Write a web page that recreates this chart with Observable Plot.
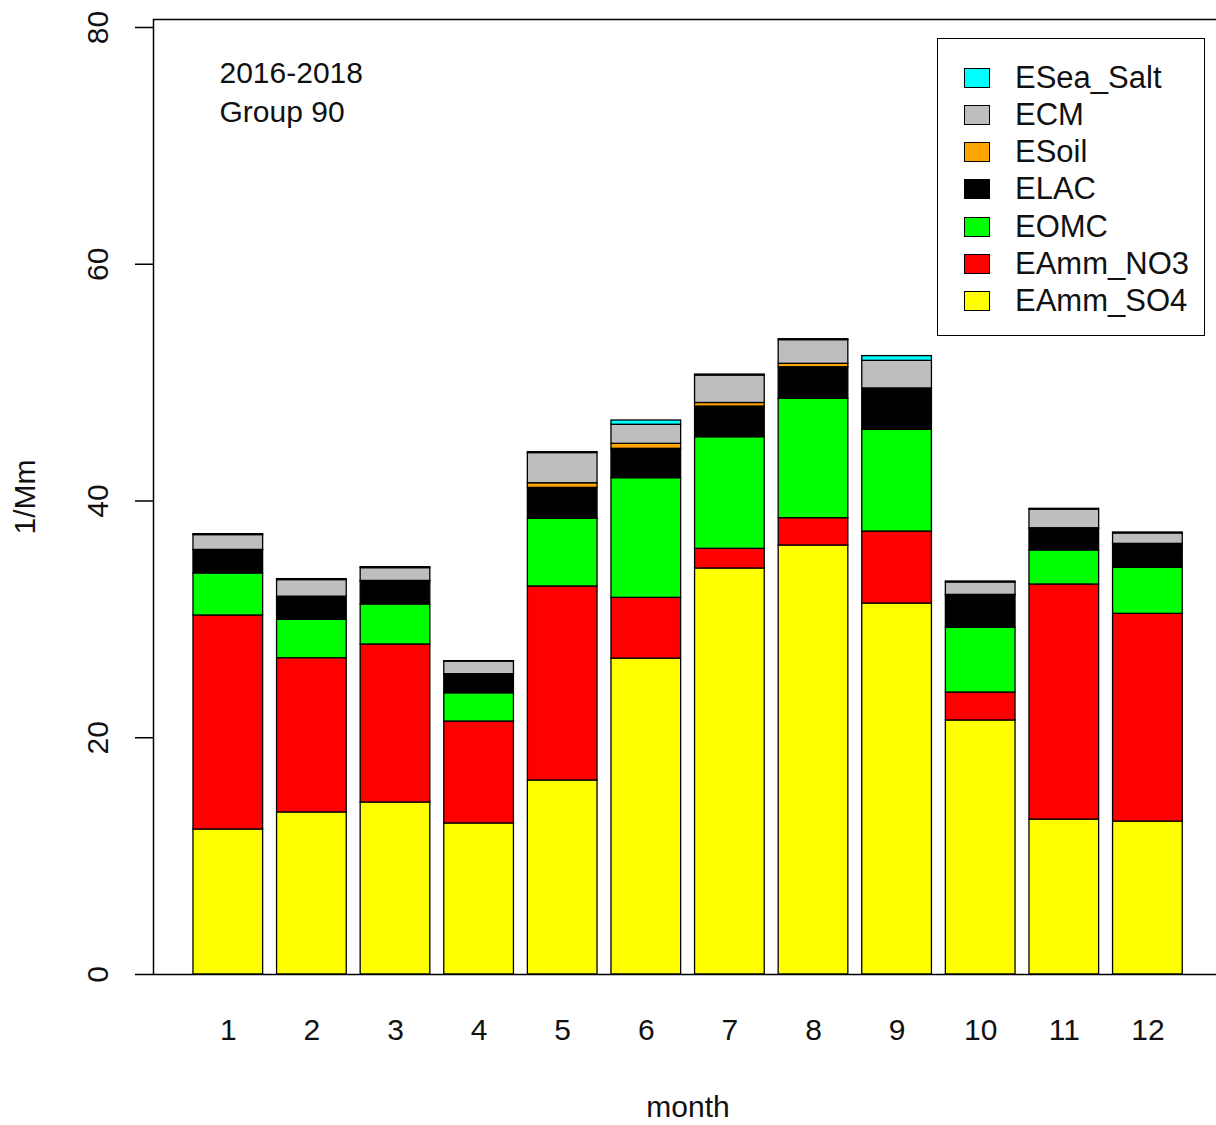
<!DOCTYPE html>
<html>
<head>
<meta charset="utf-8">
<script src="https://cdn.jsdelivr.net/npm/d3@7"></script>
<script src="https://cdn.jsdelivr.net/npm/@observablehq/plot@0.6"></script>
<style>
  html, body { margin: 0; padding: 0; background: #fff; overflow: hidden; }
  #wrap { position: relative; width: 1216px; height: 1125px; overflow: hidden; font-family: "Liberation Sans", Arial, sans-serif; }
  #chart svg { max-width: none !important; width: 1222px !important; height: 1125px !important; }
  #legend { position: absolute; left: 937px; top: 38px; width: 266px; height: 296px; border: 1.5px solid #000; background: #fff; }
  .row { position: absolute; left: 0; height: 0; }
  .sw { position: absolute; left: 26px; width: 24px; height: 18px; top: -10px; border: 1px solid #000; }
  .lb { position: absolute; left: 77px; top: -18px; font-size: 31px; line-height: 36px; white-space: nowrap; color: #111; }
</style>
</head>
<body>
<div id="wrap"><div id="chart"></div><div id="legend"></div></div>
<script>
const months = [1,2,3,4,5,6,7,8,9,10,11,12];
const series = ["EAmm_SO4","EAmm_NO3","EOMC","ELAC","ESoil","ECM","ESea_Salt"];
const colors = ["#FFFF00","#FF0000","#00FF00","#000000","#FFA500","#BEBEBE","#00FFFF"];
const EAmm_SO4 = [12.25,13.69,14.53,12.76,16.39,26.69,34.30,36.24,31.34,21.46,13.09,12.92];
const EAmm_NO3 = [18.08,13.03,13.35,8.61,16.39,5.13,1.66,2.31,6.08,2.36,19.86,17.55];
const EOMC     = [3.55,3.24,3.38,2.39,5.72,10.11,9.43,10.08,8.59,5.47,2.87,3.89];
const ELAC     = [1.94,1.91,1.94,1.56,2.61,2.48,2.59,2.67,3.45,2.73,1.83,1.97];
const ESoil    = [0.05,0.05,0.05,0.05,0.39,0.42,0.30,0.29,0.05,0.05,0.05,0.05];
const ECM      = [1.25,1.40,1.08,1.06,2.55,1.61,2.32,2.00,2.33,1.05,1.56,0.88];
const ESea_Salt= [0.08,0.08,0.08,0.04,0.08,0.36,0.08,0.08,0.40,0.08,0.08,0.08];
const yTicks = [0,20,40,60,80];
const titleLines = ["2016-2018","Group 90"];
const xLabel = "month";
const yLabel = "1/Mm";

const valuesBySeries = {EAmm_SO4, EAmm_NO3, EOMC, ELAC, ESoil, ECM, ESea_Salt};
const table = [];
series.forEach(s => months.forEach((m, i) => table.push({month: m, series: s, value: valuesBySeries[s][i]})));

const font = '"Liberation Sans", Arial, sans-serif';
const txt = {fontSize: 30, fill: "#111", textAnchor: "middle", lineAnchor: "middle"};
const chart = Plot.plot({
  width: 1222,
  height: 1125,
  marginLeft: 153,
  marginRight: 0,
  marginTop: 19,
  marginBottom: 151,
  style: {fontFamily: font, fontSize: "30px", color: "#111", background: "white"},
  x: {type: "band", domain: months, range: [186, 1189.2], paddingInner: 1/6, paddingOuter: 1/12, round: false, axis: null},
  y: {domain: [0, 80], range: [974, 27], axis: null},
  color: {domain: series, range: colors, legend: false},
  marks: [
    Plot.barY(table, {x: "month", y: "value", fill: "series", order: series, stroke: "black", strokeWidth: 1.3}),
    Plot.frame({stroke: "black", strokeWidth: 1.5}),
    Plot.axisY({ticks: yTicks, tickSize: 18, tickFormat: () => "", label: null, stroke: "black", strokeWidth: 1.5}),
    Plot.text(yTicks, {...txt, y: d => d, frameAnchor: "left", dx: -55, rotate: -90, text: d => String(d)}),
    Plot.text([yLabel], {...txt, frameAnchor: "left", dx: -128, rotate: -90, text: d => d}),
    Plot.text(months, {...txt, x: d => d, frameAnchor: "bottom", dy: 56, text: d => String(d)}),
    Plot.text([xLabel], {...txt, frameAnchor: "bottom", dy: 133, text: d => d}),
    Plot.text([titleLines[0]], {...txt, frameAnchor: "top-left", dx: 66, dy: 54, textAnchor: "start", text: d => d}),
    Plot.text([titleLines[1]], {...txt, frameAnchor: "top-left", dx: 66, dy: 93, textAnchor: "start", text: d => d})
  ]
});
chart.style.maxWidth = "none";
document.getElementById("chart").appendChild(chart);

const legend = document.getElementById("legend");
[...series].reverse().forEach((s, i) => {
  const row = document.createElement("div");
  row.className = "row";
  row.style.top = (38.7 + 37.2 * i) + "px";
  const sw = document.createElement("div");
  sw.className = "sw";
  sw.style.background = colors[series.indexOf(s)];
  const lb = document.createElement("div");
  lb.className = "lb";
  lb.textContent = s;
  row.appendChild(sw); row.appendChild(lb);
  legend.appendChild(row);
});
</script>
</body>
</html>
